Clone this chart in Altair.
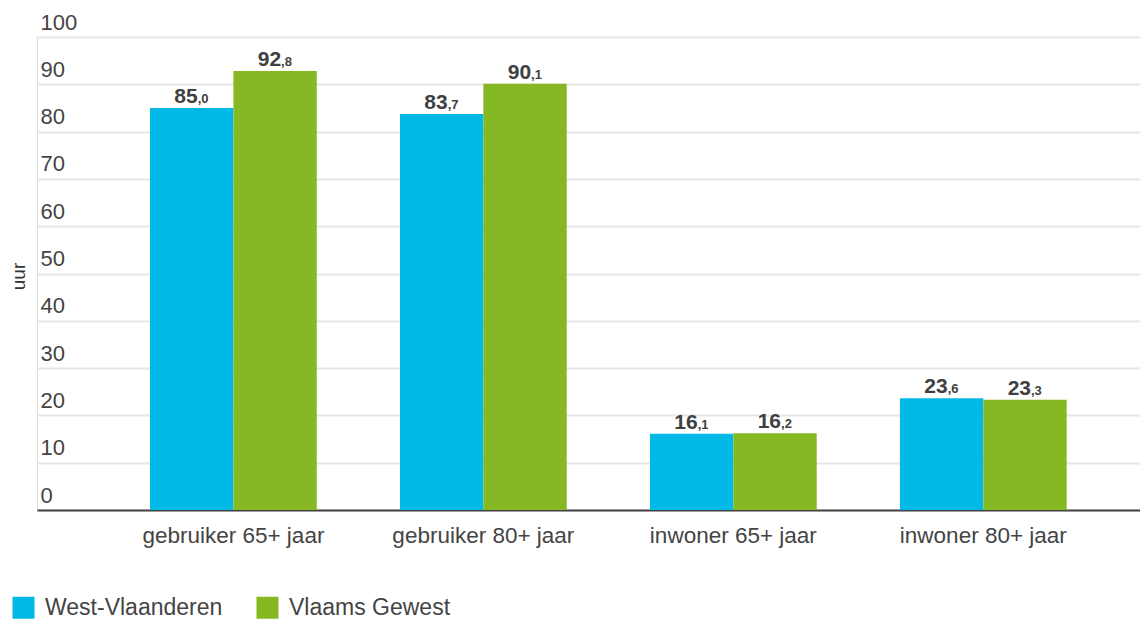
import altair as alt
import pandas as pd

categories = ["gebruiker 65+ jaar", "gebruiker 80+ jaar", "inwoner 65+ jaar", "inwoner 80+ jaar"]
series = ["West-Vlaanderen", "Vlaams Gewest"]
west_vlaanderen = [85.0, 83.7, 16.1, 23.6]
vlaams_gewest = [92.8, 90.1, 16.2, 23.3]
colors = ["#00b9e6", "#86b823"]
y_ticks = list(range(0, 101, 10))

rows = []
for s, vals in zip(series, [west_vlaanderen, vlaams_gewest]):
    for c, v in zip(categories, vals):
        txt = f"{v:.1f}"
        ip, dp = txt.split(".")
        rows.append(dict(cat=c, serie=s, value=v, ip=ip, dp="," + dp))
df = pd.DataFrame(rows)

FONT = "Liberation Sans"
TXT = "#444444"

x_enc = alt.X(
    "cat:N",
    sort=categories,
    title=None,
    scale=alt.Scale(paddingInner=0.333, paddingOuter=0.3727, align=0.6066),
    axis=alt.Axis(
        labelAngle=0,
        labelFontSize=22.5,
        labelColor=TXT,
        labelFont=FONT,
        labelPadding=14,
        labelLimit=0,
        ticks=False,
        grid=False,
        domainColor="#444444",
        domainWidth=2,
    ),
)
xoff = alt.XOffset("serie:N", sort=series, scale=alt.Scale(paddingInner=0, paddingOuter=0))
y_enc = alt.Y(
    "value:Q",
    scale=alt.Scale(domain=[0, 100], nice=False),
    title="uur",
    axis=alt.Axis(
        values=y_ticks,
        domain=False,
        ticks=False,
        grid=True,
        gridColor="#e6e6e6",
        gridWidth=2,
        labelAlign="left",
        labelBaseline="alphabetic",
        labelPadding=-3,
        labelOffset=-8,
        labelFontSize=22,
        labelColor=TXT,
        labelFont=FONT,
        titleFontSize=19,
        titleFontWeight="normal",
        titleColor="#333333",
        titleFont=FONT,
        titleAngle=-90,
        titleX=-19,
        titleY=239,
        titleAlign="center",
        titleBaseline="middle",
    ),
)

bars = alt.Chart(df).mark_bar().encode(
    x=x_enc,
    xOffset=xoff,
    y=y_enc,
    color=alt.Color(
        "serie:N",
        sort=series,
        scale=alt.Scale(domain=series, range=colors),
        legend=alt.Legend(
            title=None,
            orient="none",
            direction="horizontal",
            legendX=-25,
            legendY=559,
            symbolType="square",
            symbolSize=484,
            symbolStrokeWidth=0,
            symbolOpacity=1,
            labelFontSize=23,
            labelColor=TXT,
            labelFont=FONT,
            labelOffset=10,
            labelLimit=0,
            columnPadding=33,
        ),
    ),
)

int_text = alt.Chart(df).mark_text(
    align="right", baseline="alphabetic", dx=6, dy=-5,
    fontSize=21, fontWeight="bold", color="#404040", font=FONT,
).encode(x=alt.X("cat:N", sort=categories), xOffset=xoff, y="value:Q", text="ip:N")

dec_text = alt.Chart(df).mark_text(
    align="left", baseline="alphabetic", dx=6, dy=-5,
    fontSize=13, fontWeight="bold", color="#404040", font=FONT,
).encode(x=alt.X("cat:N", sort=categories), xOffset=xoff, y="value:Q", text="dp:N")

chart = (
    alt.layer(bars, int_text, dec_text)
    .properties(
        width=1103,
        height=473,
        autosize=alt.AutoSizeParams(type="none"),
        padding={"left": 29, "top": 29, "right": 0, "bottom": 112},
    )
    .configure_view(stroke=None)
    .configure(font=FONT)
)

chart.save("out.html", embed_options={"renderer": "svg", "actions": False})
